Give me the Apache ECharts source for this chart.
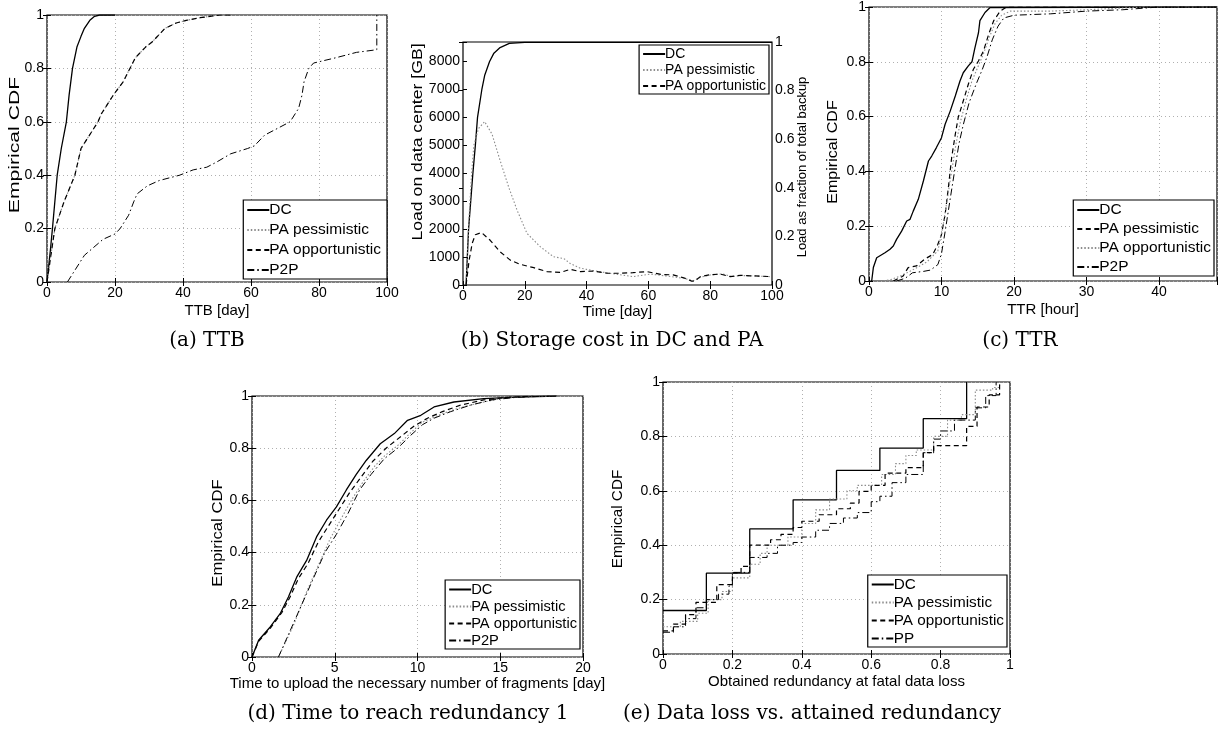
<!DOCTYPE html>
<html>
<head>
<meta charset="utf-8">
<title>Backup evaluation</title>
<script src="https://cdn.jsdelivr.net/npm/echarts@6/dist/echarts.min.js"></script>
<style>
  html, body { margin: 0; padding: 0; background: #fff; }
  #main { width: 1225px; height: 736px; }
</style>
</head>
<body>
<div id="main"></div>
<script>
// ---- (a) TTB [day] ----
const ttbDC = [[0,0],[1,0.12],[1.6,0.2],[3,0.4],[4.2,0.5],[5.7,0.6],[6.5,0.7],[7.5,0.8],[8.8,0.88],[10,0.92],[11,0.95],[12.6,0.98],[14,0.995],[15.5,1],[20,1]];
const ttbPess = [[0,0],[2.3,0.2],[5,0.3],[8.2,0.4],[10,0.5],[15,0.6],[16,0.63],[19.5,0.7],[22.4,0.75],[24.4,0.8],[26,0.84],[29,0.88],[31,0.9],[34.7,0.95],[38,0.97],[41,0.98],[45,0.99],[51,1],[54,1]];
const ttbOpp = [[0,0],[2.3,0.2],[5,0.3],[8.2,0.4],[10,0.5],[15,0.6],[16,0.63],[19.5,0.7],[22.4,0.75],[24.4,0.8],[26,0.84],[29,0.88],[31,0.9],[34.7,0.95],[38,0.97],[41,0.98],[45,0.99],[51,1],[54,1]];
const ttbP2P = [[6,0],[11,0.1],[16.5,0.16],[20,0.18],[21.5,0.2],[24,0.25],[25.5,0.3],[26.5,0.33],[29.5,0.36],[33,0.38],[39,0.4],[43,0.42],[47,0.43],[50,0.45],[54,0.48],[59,0.5],[61,0.51],[64,0.55],[68.5,0.58],[71.5,0.6],[74,0.65],[75,0.7],[75.6,0.75],[77,0.8],[78.4,0.82],[85,0.84],[91,0.86],[97,0.87],[97,1]];

// ---- (b) storage load [GB] over time [day] ----
const loadDC = [[1,0],[1.8,2000],[2.5,3000],[3.2,4000],[4,5000],[4.7,6000],[6.1,7000],[7,7500],[8.6,8000],[10,8300],[12,8500],[15,8650],[20,8690],[100,8690]];
const loadPess = [[1,0],[2,2500],[2.8,4000],[3.5,5000],[5,5600],[7,5850],[9.4,5400],[12,4460],[14.8,3500],[17.5,2680],[20.7,1850],[25,1370],[29.3,1010],[32.6,950],[34.7,770],[38,600],[40,560],[44,480],[50,380],[55,300],[60.6,390],[66,320],[71.4,240],[74.6,155],[77,280],[80,360],[84,400],[87,300],[90,340],[95,320],[99.5,300]];
const loadOpp = [[1,0],[2,900],[3,1500],[4,1800],[6,1880],[8.8,1600],[12,1190],[15.3,890],[18.5,740],[22.9,620],[27.2,480],[31.5,450],[34.7,560],[38,480],[42.3,500],[46.6,420],[51,420],[55,440],[59.5,480],[64,380],[68,360],[71.4,260],[74,140],[75,140],[76.8,300],[80,370],[83.3,390],[86.5,300],[89.8,345],[93,330],[96,320],[99.5,300]];

// ---- (c) TTR [hour] ----
const ttrDC = [[0.37,0],[0.6,0.049],[1.06,0.085],[2.2,0.103],[2.9,0.116],[3.35,0.128],[3.8,0.152],[4.5,0.182],[5.2,0.219],[5.66,0.225],[6.1,0.255],[6.8,0.298],[7.5,0.365],[8.2,0.438],[8.65,0.456],[9.3,0.487],[10,0.523],[10.5,0.572],[11.2,0.62],[11.9,0.675],[12.55,0.73],[13,0.76],[13.7,0.785],[14.2,0.8],[14.6,0.85],[15.1,0.906],[15.3,0.95],[16,0.98],[16.7,0.998],[16.9,1],[48,1]];
const ttrPess = [[3.35,0],[4.7,0.018],[5.4,0.049],[6.55,0.055],[7.7,0.08],[8.8,0.097],[9.5,0.134],[10,0.17],[10.5,0.243],[10.9,0.33],[11.4,0.45],[11.9,0.535],[12.3,0.596],[13,0.657],[13.7,0.718],[14.4,0.773],[15.1,0.803],[15.8,0.84],[16.5,0.9],[17.2,0.95],[18.1,0.985],[19,1],[48,1]];
const ttrOpp = [[2,0],[3,0.005],[4.5,0.02],[6,0.04],[8,0.07],[9.5,0.11],[10.2,0.2],[10.8,0.3],[11.4,0.4],[12,0.5],[12.6,0.58],[13.4,0.66],[14.2,0.73],[15,0.78],[15.8,0.83],[16.6,0.89],[17.4,0.94],[18.3,0.97],[19.5,0.985],[25,0.985],[30,0.99],[38,1],[48,1]];
const ttrP2P = [[3.8,0],[5,0.01],[6,0.03],[7.5,0.035],[8.5,0.04],[9.5,0.06],[10,0.1],[10.5,0.18],[11.2,0.3],[11.8,0.4],[12.4,0.5],[13,0.57],[13.8,0.65],[14.8,0.72],[15.6,0.77],[16.3,0.82],[17,0.88],[17.8,0.93],[18.6,0.96],[20,0.97],[25,0.975],[30,0.985],[35,0.99],[40,1],[48,1]];

// ---- (d) time to reach redundancy 1 [day] ----
const redDC = [[0,0],[0.4,0.064],[1.1,0.115],[1.7,0.166],[2.2,0.23],[2.7,0.306],[3.3,0.37],[3.9,0.46],[4.5,0.524],[5.1,0.575],[5.7,0.64],[6.3,0.7],[6.9,0.753],[7.75,0.817],[8.6,0.856],[9.4,0.907],[10.2,0.926],[11,0.958],[12.2,0.977],[14,0.99],[16,0.996],[18.4,1]];
const redPess = [[1.6,0],[2.5,0.12],[3.3,0.25],[4,0.35],[4.7,0.45],[5.3,0.52],[6,0.6],[6.7,0.67],[7.4,0.73],[8,0.77],[8.8,0.81],[9.6,0.86],[10.3,0.9],[11.2,0.925],[12.3,0.95],[13.5,0.97],[15,0.99],[16.5,0.998],[18,1]];
const redOpp = [[0,0],[0.4,0.06],[1.1,0.11],[1.8,0.17],[2.3,0.23],[2.8,0.3],[3.4,0.36],[4,0.44],[4.7,0.51],[5.3,0.57],[5.9,0.63],[6.6,0.69],[7.3,0.75],[8.1,0.8],[9,0.845],[9.8,0.885],[10.6,0.915],[11.5,0.94],[12.6,0.965],[14,0.985],[15.5,0.995],[17,1]];
const redP2P = [[1.6,0],[2.3,0.1],[3,0.2],[3.7,0.3],[4.4,0.4],[5.1,0.47],[5.8,0.55],[6.5,0.64],[7.2,0.7],[8,0.76],[8.8,0.8],[9.6,0.85],[10.3,0.89],[11,0.915],[12,0.94],[13.2,0.965],[14.5,0.985],[16,0.995],[18,1]];

// ---- (e) obtained redundancy at fatal data loss (step CDFs) ----
const lossDC = [[0,0.16],[0.125,0.297],[0.25,0.46],[0.375,0.567],[0.5,0.675],[0.625,0.757],[0.75,0.865],[0.875,1]];
const lossPess = [[0,0.1],[0.05,0.12],[0.1,0.15],[0.13,0.2],[0.17,0.23],[0.2,0.28],[0.25,0.33],[0.28,0.37],[0.3,0.4],[0.36,0.43],[0.4,0.48],[0.44,0.53],[0.48,0.57],[0.53,0.6],[0.56,0.62],[0.63,0.66],[0.67,0.7],[0.7,0.73],[0.73,0.75],[0.78,0.8],[0.82,0.86],[0.86,0.88],[0.9,0.97],[0.95,0.98],[0.97,1]];
const lossOpp = [[0,0.085],[0.03,0.11],[0.065,0.145],[0.095,0.19],[0.155,0.255],[0.2,0.298],[0.225,0.322],[0.25,0.4],[0.31,0.42],[0.34,0.44],[0.375,0.465],[0.4,0.488],[0.45,0.512],[0.5,0.534],[0.54,0.555],[0.565,0.598],[0.6,0.62],[0.64,0.665],[0.7,0.685],[0.75,0.74],[0.78,0.766],[0.875,0.837],[0.905,0.908],[0.94,0.953],[0.97,1]];
const lossPP = [[0,0.08],[0.03,0.1],[0.065,0.13],[0.095,0.17],[0.125,0.2],[0.16,0.22],[0.19,0.25],[0.2,0.3],[0.25,0.355],[0.3,0.37],[0.33,0.4],[0.375,0.41],[0.4,0.43],[0.44,0.455],[0.48,0.48],[0.52,0.5],[0.56,0.52],[0.6,0.56],[0.625,0.58],[0.66,0.63],[0.7,0.66],[0.75,0.74],[0.78,0.79],[0.8,0.82],[0.84,0.86],[0.9,0.905],[0.93,0.95],[0.96,1]];

const captions = ['(a) TTB', '(b) Storage cost in DC and PA', '(c) TTR', '(d) Time to reach redundancy 1', '(e) Data loss vs. attained redundancy'];

const SANS = 'Liberation Sans, Arial, Helvetica, sans-serif';
const SERIF = 'DejaVu Serif, Liberation Serif, serif';

// line looks, as in the matlab figure
const SOLID = { color: '#000', width: 1.3, type: 'solid' };
const DOTTED = { color: '#8c8c8c', width: 1.1, type: [1.5, 2] };
const DASHED = { color: '#000', width: 1.2, type: [5, 3.5] };
const DASHDOT = { color: '#000', width: 1, type: [7, 3, 1.5, 3] };

const grids = [], xAxes = [], yAxes = [], series = [], legends = [], graphic = [];

function tickAxis(extra) {
  return Object.assign({
    type: 'value',
    axisLine: { show: false },
    axisTick: { show: true, inside: true, length: 4, lineStyle: { color: '#000', width: 1 } },
    axisLabel: { show: false },
    splitLine: { show: false }
  }, extra);
}

function onTick(step) {
  return v => (Math.abs(v / step - Math.round(v / step)) < 1e-6 ? String(+v.toFixed(4)) : '');
}

// rotated axis title, stretched along its length like in the source figure
function sideTitle(t) {
  graphic.push({
    type: 'text', x: t.x, y: t.y, rotation: Math.PI / 2, scaleX: t.sx || 1, silent: true,
    style: { text: t.text, fontFamily: SANS, fontSize: t.size || 15, fill: '#000', align: 'center', verticalAlign: 'middle' }
  });
}

function addPanel(p) {
  const gi = grids.length;
  grids.push({ left: p.box[0], top: p.box[1], width: p.box[2], height: p.box[3],
    show: true, borderColor: '#000', borderWidth: 1.2, backgroundColor: '#fff' });
  const gridLine = { show: p.gridLines, lineStyle: { color: '#b0b0b0', width: 1, type: [1, 3] } };
  const xi = xAxes.length;
  xAxes.push(tickAxis({
    gridIndex: gi, position: 'bottom', min: p.x[0], max: p.x[1], interval: p.x[2],
    name: p.xName, nameLocation: 'middle', nameGap: p.xGap,
    nameTextStyle: { fontFamily: SANS, fontSize: 15, color: '#000' },
    axisLabel: { show: true, margin: 4, fontFamily: SANS, fontSize: 14, color: '#000', formatter: onTick(p.x[2]) },
    splitLine: gridLine
  }));
  xAxes.push(tickAxis({ gridIndex: gi, position: 'top', min: p.x[0], max: p.x[1], interval: p.x[2] }));
  const yi = yAxes.length;
  yAxes.push(tickAxis({
    gridIndex: gi, position: 'left', min: p.y[0], max: p.y[1], interval: p.y[2],
    axisLabel: { show: true, margin: 3, fontFamily: SANS, fontSize: 14, color: '#000', formatter: onTick(p.y[2]) },
    splitLine: gridLine
  }));
  if (p.rightAxis) {
    yAxes.push(tickAxis({
      gridIndex: gi, position: 'right', min: 0, max: 1, interval: 0.2,
      axisLabel: { show: true, margin: 3, fontFamily: SANS, fontSize: 14, color: '#000' }
    }));
  } else {
    yAxes.push(tickAxis({ gridIndex: gi, position: 'right', min: p.y[0], max: p.y[1], interval: p.y[2] }));
  }
  p.titles.forEach(sideTitle);
  const names = [];
  p.lines.forEach(l => {
    const nm = gi + '|' + l.name;
    names.push(nm);
    series.push({
      type: 'line', name: nm, xAxisIndex: xi, yAxisIndex: yi, data: l.data,
      step: p.step ? 'end' : false, symbol: 'none', smooth: false,
      lineStyle: l.style, itemStyle: { color: l.style.color }, silent: true, animation: false,
      z: l.z || 2
    });
  });
  const lg = p.legend;
  legends.push({
    orient: 'vertical', right: 1225 - lg.right, top: lg.top,
    data: names, formatter: n => n.split('|')[1], selectedMode: false,
    backgroundColor: '#fff', borderColor: '#000', borderWidth: 1.2,
    padding: [2, lg.padR, 1, 3], itemGap: lg.gap, itemWidth: 22, itemHeight: 15,
    itemStyle: { color: 'rgba(0,0,0,0)', borderColor: 'rgba(0,0,0,0)', borderWidth: 0 },
    textStyle: { fontFamily: SANS, fontSize: lg.size, color: '#000', padding: [0, 0, 0, -5] }
  });
}

addPanel({ box: [47, 15, 340, 267], x: [0, 100, 20], y: [0, 1, 0.2], gridLines: true,
  xName: 'TTB [day]', xGap: 21,
  titles: [{ text: 'Empirical CDF', x: 15, y: 145, sx: 1.41 }],
  legend: { right: 387, top: 200, size: 15.5, gap: 4, padR: 6 },
  lines: [
    { name: 'DC', data: ttbDC, style: SOLID },
    { name: 'PA pessimistic', data: ttbPess, style: DOTTED },
    { name: 'PA opportunistic', data: ttbOpp, style: DASHED, z: 3 },
    { name: 'P2P', data: ttbP2P, style: DASHDOT }
  ] });

addPanel({ box: [463, 42, 309, 243], x: [0, 100, 20], y: [0, 8700, 1000], gridLines: false,
  xName: 'Time [day]', xGap: 18, rightAxis: true,
  titles: [{ text: 'Load on data center [GB]', x: 418, y: 142, sx: 1.26, size: 14 },
           { text: 'Load as fraction of total backup', x: 802, y: 167, size: 13 }],
  legend: { right: 769, top: 45, size: 14, gap: 2, padR: 3 },
  lines: [
    { name: 'DC', data: loadDC, style: SOLID },
    { name: 'PA pessimistic', data: loadPess, style: DOTTED },
    { name: 'PA opportunistic', data: loadOpp, style: DASHED }
  ] });

addPanel({ box: [869, 6, 348, 275], x: [0, 48, 10], y: [0, 1, 0.2], gridLines: true,
  xName: 'TTR [hour]', xGap: 21,
  titles: [{ text: 'Empirical CDF', x: 833, y: 152, sx: 1.07 }],
  legend: { right: 1214, top: 200, size: 15.5, gap: 3, padR: 3 },
  lines: [
    { name: 'DC', data: ttrDC, style: SOLID },
    { name: 'PA pessimistic', data: ttrPess, style: DASHED },
    { name: 'PA opportunistic', data: ttrOpp, style: DOTTED },
    { name: 'P2P', data: ttrP2P, style: DASHDOT }
  ] });

addPanel({ box: [252, 396, 331, 261], x: [0, 20, 5], y: [0, 1, 0.2], gridLines: true,
  xName: 'Time to upload the necessary number of fragments [day]', xGap: 19,
  titles: [{ text: 'Empirical CDF', x: 218, y: 533, sx: 1.11 }],
  legend: { right: 580, top: 580, size: 14.7, gap: 2, padR: 3 },
  lines: [
    { name: 'DC', data: redDC, style: SOLID },
    { name: 'PA pessimistic', data: redPess, style: DOTTED },
    { name: 'PA opportunistic', data: redOpp, style: DASHED },
    { name: 'P2P', data: redP2P, style: DASHDOT }
  ] });

addPanel({ box: [663, 382, 347, 272], x: [0, 1, 0.2], y: [0, 1, 0.2], gridLines: true, step: true,
  xName: 'Obtained redundancy at fatal data loss', xGap: 20,
  titles: [{ text: 'Empirical CDF', x: 618, y: 519, sx: 1.02 }],
  legend: { right: 1007, top: 575, size: 15.3, gap: 3, padR: 3 },
  lines: [
    { name: 'DC', data: lossDC, style: SOLID },
    { name: 'PA pessimistic', data: lossPess, style: DOTTED },
    { name: 'PA opportunistic', data: lossOpp, style: DASHED },
    { name: 'PP', data: lossPP, style: DASHDOT }
  ] });

const capPos = [[207, 341], [612, 341], [1020, 341], [408, 714], [812, 714]];
captions.forEach((t, i) => graphic.push({
  type: 'text', x: capPos[i][0], y: capPos[i][1], silent: true,
  style: { text: t, fontFamily: SERIF, fontSize: 20, fill: '#000', align: 'center', verticalAlign: 'middle' }
}));

const chart = echarts.init(document.getElementById('main'), null, { renderer: 'canvas' });
chart.setOption({
  animation: false,
  backgroundColor: '#fff',
  grid: grids,
  xAxis: xAxes,
  yAxis: yAxes,
  legend: legends,
  series: series,
  graphic: graphic
});
</script>
</body>
</html>
